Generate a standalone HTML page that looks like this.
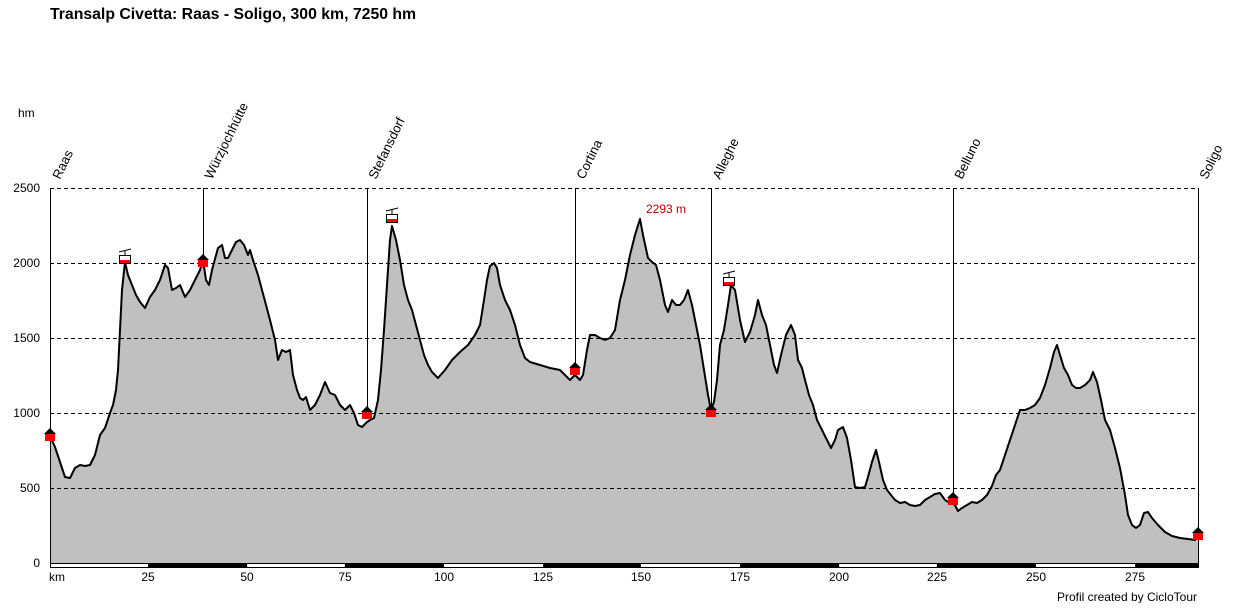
<!DOCTYPE html>
<html><head><meta charset="utf-8"><style>
body{margin:0;background:#fff;}
svg text{font-family:"Liberation Sans",Arial,sans-serif;}
</style></head><body>
<svg width="1248" height="603" viewBox="0 0 1248 603" xmlns="http://www.w3.org/2000/svg">
<rect width="1248" height="603" fill="#fff"/>
<text x="50" y="19" font-size="15.8" font-weight="bold">Transalp Civetta: Raas - Soligo, 300 km, 7250 hm</text>
<text x="18" y="117" font-size="12">hm</text>
<polygon fill="#c0c0c0" points="50,563 50,436 55,447 60,462 65,477 70,478 75,468 80,465 85,466 90,465 95,455 100,435 105,428 110,413 113,405 116,390 118,370 120,330 122,290 125,262 128,275 132,285 136,295 140,302 145,308 150,297 155,290 160,280 165,265 168,268 172,290 176,288 180,285 185,297 190,290 195,280 200,270 203,260 206,280 209,285 212,270 218,248 222,245 225,258 228,258 232,250 236,242 240,240 244,245 248,255 250,250 253,260 258,275 262,290 266,305 270,320 275,340 278,360 282,350 286,352 290,350 293,375 297,390 300,398 303,400 306,397 310,410 315,405 320,395 325,382 330,393 335,395 340,405 345,410 350,405 354,413 358,425 362,427 367,422 370,420 374,418 378,400 381,370 384,330 387,285 390,240 392,226 396,240 400,260 404,285 408,300 412,310 416,325 420,340 424,355 428,365 432,372 438,378 445,370 452,360 460,352 468,345 475,335 480,325 484,300 487,280 490,266 494,263 497,268 500,285 505,300 510,310 515,325 520,345 525,358 530,362 540,365 550,368 560,370 565,375 570,380 575,375 580,380 583,375 587,350 590,335 595,335 600,338 605,340 610,338 615,330 620,300 625,280 630,255 635,235 640,219 643,235 648,258 652,262 656,265 660,280 665,305 668,312 672,300 676,305 680,305 684,300 688,290 692,305 696,325 700,345 704,370 708,395 711,410 714,402 717,380 720,345 724,330 728,305 731,285 735,290 740,320 745,342 750,332 755,315 758,300 762,315 766,325 770,345 774,365 777,373 781,355 786,335 791,325 795,335 798,360 802,368 805,380 809,395 813,405 817,420 822,430 827,440 831,448 835,440 838,430 843,427 847,438 851,460 855,487 860,488 865,487 868,477 872,462 876,450 879,462 883,480 887,490 891,495 895,500 900,503 905,502 910,505 915,506 920,505 925,500 930,497 935,494 940,493 945,500 950,503 955,505 958,511 962,508 967,505 972,502 977,503 982,500 987,495 992,486 996,475 1000,470 1005,455 1010,440 1015,425 1020,410 1025,410 1030,408 1035,405 1040,398 1045,385 1050,368 1054,352 1057,345 1060,355 1064,368 1068,375 1072,385 1076,388 1080,388 1085,385 1090,380 1093,372 1097,382 1101,400 1105,420 1110,430 1115,448 1120,468 1125,495 1128,515 1132,525 1136,528 1140,525 1144,513 1148,512 1152,518 1158,525 1165,532 1172,536 1180,538 1188,539 1195,540 1198,536 1198,563"/>
<g stroke="#000" stroke-width="1" stroke-dasharray="4,3">
<line x1="50" y1="188.5" x2="1198" y2="188.5"/><line x1="50" y1="263.5" x2="1198" y2="263.5"/><line x1="50" y1="338.5" x2="1198" y2="338.5"/><line x1="50" y1="413.5" x2="1198" y2="413.5"/><line x1="50" y1="488.5" x2="1198" y2="488.5"/>
</g>
<polyline fill="none" stroke="#000" stroke-width="2" stroke-linejoin="round" points="50,436 55,447 60,462 65,477 70,478 75,468 80,465 85,466 90,465 95,455 100,435 105,428 110,413 113,405 116,390 118,370 120,330 122,290 125,262 128,275 132,285 136,295 140,302 145,308 150,297 155,290 160,280 165,265 168,268 172,290 176,288 180,285 185,297 190,290 195,280 200,270 203,260 206,280 209,285 212,270 218,248 222,245 225,258 228,258 232,250 236,242 240,240 244,245 248,255 250,250 253,260 258,275 262,290 266,305 270,320 275,340 278,360 282,350 286,352 290,350 293,375 297,390 300,398 303,400 306,397 310,410 315,405 320,395 325,382 330,393 335,395 340,405 345,410 350,405 354,413 358,425 362,427 367,422 370,420 374,418 378,400 381,370 384,330 387,285 390,240 392,226 396,240 400,260 404,285 408,300 412,310 416,325 420,340 424,355 428,365 432,372 438,378 445,370 452,360 460,352 468,345 475,335 480,325 484,300 487,280 490,266 494,263 497,268 500,285 505,300 510,310 515,325 520,345 525,358 530,362 540,365 550,368 560,370 565,375 570,380 575,375 580,380 583,375 587,350 590,335 595,335 600,338 605,340 610,338 615,330 620,300 625,280 630,255 635,235 640,219 643,235 648,258 652,262 656,265 660,280 665,305 668,312 672,300 676,305 680,305 684,300 688,290 692,305 696,325 700,345 704,370 708,395 711,410 714,402 717,380 720,345 724,330 728,305 731,285 735,290 740,320 745,342 750,332 755,315 758,300 762,315 766,325 770,345 774,365 777,373 781,355 786,335 791,325 795,335 798,360 802,368 805,380 809,395 813,405 817,420 822,430 827,440 831,448 835,440 838,430 843,427 847,438 851,460 855,487 860,488 865,487 868,477 872,462 876,450 879,462 883,480 887,490 891,495 895,500 900,503 905,502 910,505 915,506 920,505 925,500 930,497 935,494 940,493 945,500 950,503 955,505 958,511 962,508 967,505 972,502 977,503 982,500 987,495 992,486 996,475 1000,470 1005,455 1010,440 1015,425 1020,410 1025,410 1030,408 1035,405 1040,398 1045,385 1050,368 1054,352 1057,345 1060,355 1064,368 1068,375 1072,385 1076,388 1080,388 1085,385 1090,380 1093,372 1097,382 1101,400 1105,420 1110,430 1115,448 1120,468 1125,495 1128,515 1132,525 1136,528 1140,525 1144,513 1148,512 1152,518 1158,525 1165,532 1172,536 1180,538 1188,539 1195,540 1198,536"/>
<g stroke="#000" stroke-width="1">
<line x1="50.5" y1="188" x2="50.5" y2="563"/>
<line x1="203.5" y1="188" x2="203.5" y2="258"/>
<line x1="367.5" y1="188" x2="367.5" y2="410"/>
<line x1="575.5" y1="188" x2="575.5" y2="365"/>
<line x1="711.5" y1="188" x2="711.5" y2="406"/>
<line x1="953.5" y1="188" x2="953.5" y2="496"/>
<line x1="1198.5" y1="188" x2="1198.5" y2="563"/>
</g>
<rect x="50.5" y="563.5" width="1148" height="4" fill="#fff" stroke="#000"/>
<g fill="#000">
<rect x="148" y="563" width="99" height="5"/><rect x="345" y="563" width="99" height="5"/><rect x="543" y="563" width="98" height="5"/><rect x="740" y="563" width="99" height="5"/><rect x="937" y="563" width="99" height="5"/><rect x="1135" y="563" width="63" height="5"/>
</g>
<g>
<g transform="translate(50,436)"><polygon points="-6,-2 0,-8 6,-2"/><rect x="-5" y="-2" width="10" height="7" fill="#f00"/></g>
<g transform="translate(203,262)"><polygon points="-6,-2 0,-8 6,-2"/><rect x="-5" y="-2" width="10" height="7" fill="#f00"/></g>
<g transform="translate(367,414)"><polygon points="-6,-2 0,-8 6,-2"/><rect x="-5" y="-2" width="10" height="7" fill="#f00"/></g>
<g transform="translate(575,370)"><polygon points="-6,-2 0,-8 6,-2"/><rect x="-5" y="-2" width="10" height="7" fill="#f00"/></g>
<g transform="translate(711,412)"><polygon points="-6,-2 0,-8 6,-2"/><rect x="-5" y="-2" width="10" height="7" fill="#f00"/></g>
<g transform="translate(953,500)"><polygon points="-6,-2 0,-8 6,-2"/><rect x="-5" y="-2" width="10" height="7" fill="#f00"/></g>
<g transform="translate(1198,535)"><polygon points="-6,-2 0,-8 6,-2"/><rect x="-5" y="-2" width="10" height="7" fill="#f00"/></g>
</g>
<g stroke="#000" stroke-width="1">
<g transform="translate(125,262)"><line x1="-6" y1="-10" x2="6" y2="-13"/><line x1="0" y1="-11" x2="0" y2="-7"/><rect x="-5.5" y="-6.5" width="11" height="8" fill="#fff"/><rect x="-5" y="-2" width="10" height="3" fill="#f00" stroke="none"/></g>
<g transform="translate(392,221)"><line x1="-6" y1="-10" x2="6" y2="-13"/><line x1="0" y1="-11" x2="0" y2="-7"/><rect x="-5.5" y="-6.5" width="11" height="8" fill="#fff"/><rect x="-5" y="-2" width="10" height="3" fill="#f00" stroke="none"/></g>
<g transform="translate(729,284)"><line x1="-6" y1="-10" x2="6" y2="-13"/><line x1="0" y1="-11" x2="0" y2="-7"/><rect x="-5.5" y="-6.5" width="11" height="8" fill="#fff"/><rect x="-5" y="-2" width="10" height="3" fill="#f00" stroke="none"/></g>
</g>
<text x="646" y="213" font-size="12" fill="#c00000">2293 m</text>
<g font-size="12" text-anchor="end">
<text x="40" y="192">2500</text><text x="40" y="267">2000</text><text x="40" y="342">1500</text><text x="40" y="417">1000</text><text x="40" y="492">500</text><text x="40" y="567">0</text>
</g>
<g font-size="12" text-anchor="middle">
<text x="57" y="581">km</text><text x="148" y="581">25</text><text x="247" y="581">50</text><text x="345" y="581">75</text><text x="444" y="581">100</text><text x="543" y="581">125</text><text x="641" y="581">150</text><text x="740" y="581">175</text><text x="839" y="581">200</text><text x="937" y="581">225</text><text x="1036" y="581">250</text><text x="1135" y="581">275</text>
</g>
<text x="1197" y="601" font-size="12" text-anchor="end">Profil created by CicloTour</text>
<g font-size="13">
<text transform="translate(60,180) rotate(-64)">Raas</text>
<text transform="translate(212,180) rotate(-64)">Würzjochhütte</text>
<text transform="translate(376,180) rotate(-64)">Stefansdorf</text>
<text transform="translate(584,180) rotate(-64)">Cortina</text>
<text transform="translate(720,180) rotate(-64)">Alleghe</text>
<text transform="translate(962,180) rotate(-64)">Belluno</text>
<text transform="translate(1207,180) rotate(-64)">Soligo</text>
</g>
</svg>
</body></html>
